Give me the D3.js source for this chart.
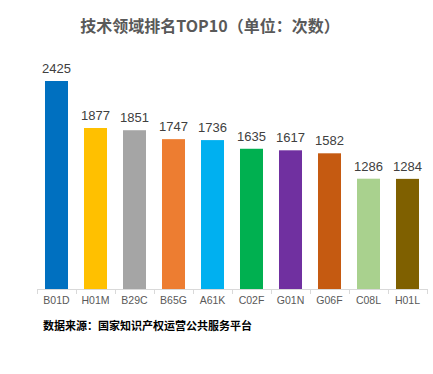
<!DOCTYPE html>
<html><head><meta charset="utf-8">
<script src="https://cdn.jsdelivr.net/npm/d3@7"></script>
<style>body{margin:0;background:#fff}svg{display:block}</style>
</head><body><div id="c"></div>
<script>
const categories = ["B01D","H01M","B29C","B65G","A61K","C02F","G01N","G06F","C08L","H01L"];
const values = [2425,1877,1851,1747,1736,1635,1617,1582,1286,1284];
const colors = ["#0070C0","#FFC000","#A5A5A5","#ED7D31","#00B0F0","#00B050","#7030A0","#C55A11","#A9D18E","#7F6000"];
const title = "技术领域排名TOP10（单位：次数）";
const source = "数据来源：国家知识产权运营公共服务平台";

const W = 433, H = 374;
const svg = d3.select("#c").append("svg").attr("width", W).attr("height", H);
const font = "'Microsoft YaHei','Noto Sans CJK SC','Liberation Sans',sans-serif";

const x = d3.scaleBand().domain(categories).range([37, 427]).paddingInner(0.41).paddingOuter(0.205);
const y = d3.scaleLinear().domain([0, 2425]).range([289, 81]);

svg.append("text").attr("x", 210).attr("y", 32).attr("text-anchor", "middle")
  .attr("font-family", font).attr("font-size", 16).attr("font-weight", "bold")
  .attr("fill", "#595959").text(title);

svg.selectAll("rect.bar").data(values).join("rect").attr("class","bar")
  .attr("x", (d,i) => x(categories[i])).attr("width", x.bandwidth())
  .attr("y", d => y(d)).attr("height", d => y(0) - y(d))
  .attr("fill", (d,i) => colors[i]);

svg.selectAll("text.val").data(values).join("text").attr("class","val")
  .attr("x", (d,i) => x(categories[i]) + x.bandwidth()/2)
  .attr("y", d => y(d) - 8).attr("text-anchor","middle")
  .attr("font-family", "'Liberation Sans',Arial,sans-serif").attr("font-size", 13)
  .attr("fill", "#404040").text(d => d);

// axis line
svg.append("line").attr("x1", 37).attr("x2", 427).attr("y1", 289.5).attr("y2", 289.5)
  .attr("stroke", "#d9d9d9").attr("stroke-width", 1);
const step = x.step();
d3.range(categories.length + 1).forEach(i => {
  const xx = Math.round(37 + i * step) + 0.5;
  svg.append("line").attr("x1", xx).attr("x2", xx).attr("y1", 289).attr("y2", 294)
    .attr("stroke", "#d9d9d9");
});

svg.selectAll("text.cat").data(categories).join("text").attr("class","cat")
  .attr("x", d => x(d) + x.bandwidth()/2).attr("y", 304).attr("text-anchor","middle")
  .attr("font-family", "'Liberation Sans',Arial,sans-serif").attr("font-size", 10.5)
  .attr("fill", "#595959").text(d => d);

svg.append("text").attr("x", 43).attr("y", 330)
  .attr("font-family", font).attr("font-size", 11).attr("font-weight", "bold")
  .attr("fill", "#000").text(source);
</script></body></html>
